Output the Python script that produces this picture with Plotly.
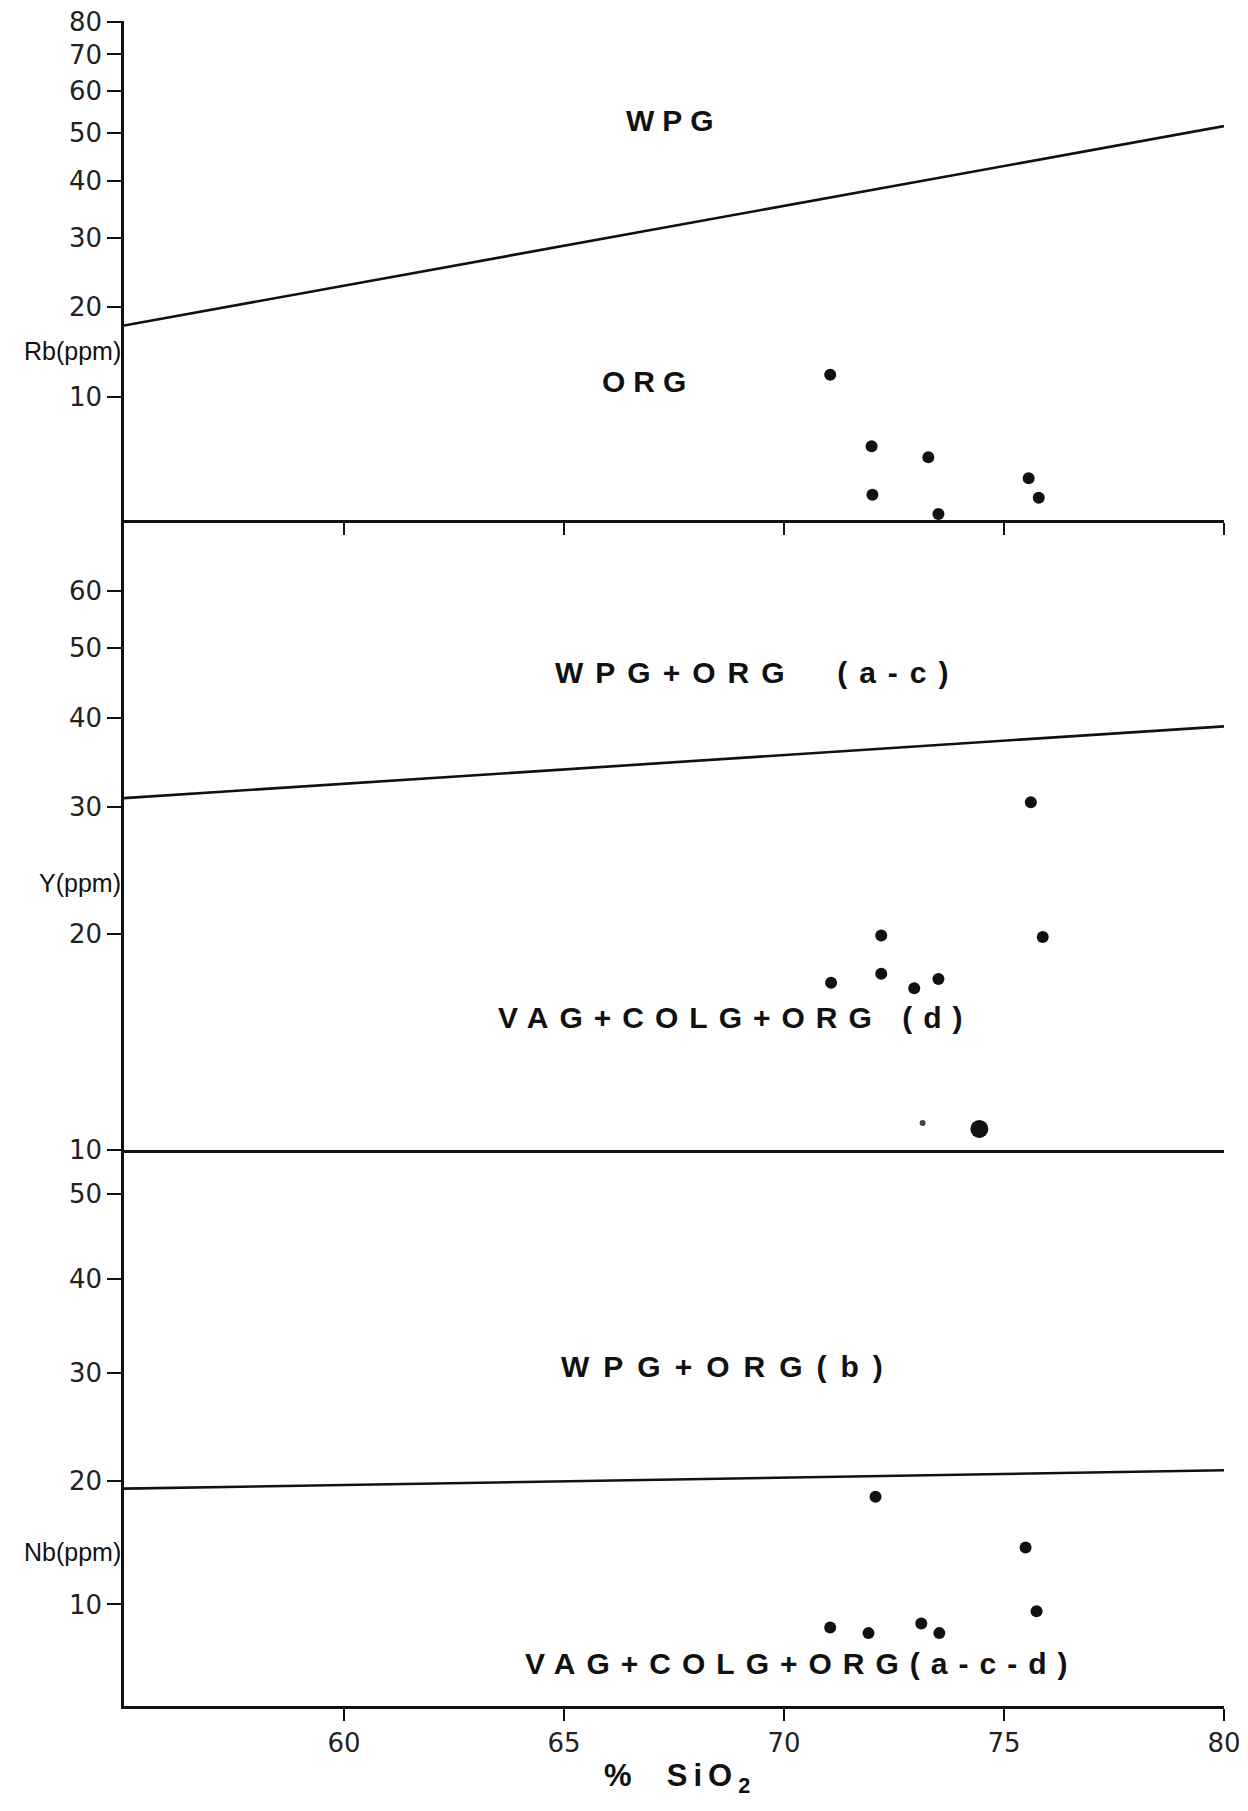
import math
import plotly.graph_objects as go

# ---------------- data ----------------
# Rb panel (SiO2 %, Rb ppm)
rb_sio2 = [71.05, 71.99, 72.01, 73.28, 73.51, 75.56, 75.79]
rb_ppm = [12.2, 5.6, 1.9, 4.7, 0.6, 3.1, 1.7]
# Y panel (SiO2 %, Y ppm)
y_sio2 = [75.61, 75.88, 72.21, 72.21, 71.07, 72.96, 73.51]
y_ppm = [30.5, 19.8, 19.9, 17.6, 17.1, 16.8, 17.3]
y_big_sio2 = [74.44]
y_big_ppm = [10.7]
y_small_sio2 = [73.15]
y_small_ppm = [10.9]
# Nb panel (SiO2 %, Nb ppm)
nb_sio2 = [72.08, 75.49, 75.74, 71.05, 71.92, 73.12, 73.53]
nb_ppm = [18.6, 14.4, 9.5, 8.3, 7.9, 8.6, 7.9]

# discrimination boundaries (SiO2 ends, ppm values)
bound_sio2 = [55, 80]
rb_bound = [17.7, 51.5]
y_bound = [30.9, 38.9]
nb_bound = [19.3, 20.9]

# tick labels
x_ticks = [60, 65, 70, 75, 80]
rb_ticks = [10, 20, 30, 40, 50, 60, 70, 80]
y_ticks = [10, 20, 30, 40, 50, 60]
nb_ticks = [10, 20, 30, 40, 50]

# the hand-drawn ppm scales behave like log(value + offset)
RB_OFF = 20
Y_OFF = 0
NB_OFF = 50


def sh(vals, off):
    return [v + off for v in vals]


FONT = "Liberation Sans, Arial, sans-serif"
TICKFONT = dict(family="DejaVu Sans, sans-serif", size=26, color="#222")
INK = "#111"

fig = go.Figure()

mk = dict(color=INK, size=12, symbol="circle")
lw = dict(color=INK, width=2.6)

# top panel (Rb)
fig.add_trace(go.Scatter(x=bound_sio2, y=sh(rb_bound, RB_OFF), mode="lines", line=lw,
                         xaxis="x3", yaxis="y3", showlegend=False, hoverinfo="skip"))
fig.add_trace(go.Scatter(x=rb_sio2, y=sh(rb_ppm, RB_OFF), mode="markers", marker=mk,
                         xaxis="x3", yaxis="y3", showlegend=False, cliponaxis=False))
# middle panel (Y)
fig.add_trace(go.Scatter(x=bound_sio2, y=sh(y_bound, Y_OFF), mode="lines", line=lw,
                         xaxis="x2", yaxis="y2", showlegend=False, hoverinfo="skip"))
fig.add_trace(go.Scatter(x=y_sio2, y=sh(y_ppm, Y_OFF), mode="markers", marker=mk,
                         xaxis="x2", yaxis="y2", showlegend=False, cliponaxis=False))
fig.add_trace(go.Scatter(x=y_big_sio2, y=sh(y_big_ppm, Y_OFF), mode="markers",
                         marker=dict(color=INK, size=18, symbol="circle"),
                         xaxis="x2", yaxis="y2", showlegend=False, cliponaxis=False))
fig.add_trace(go.Scatter(x=y_small_sio2, y=sh(y_small_ppm, Y_OFF), mode="markers",
                         marker=dict(color="#444", size=6, symbol="circle"),
                         xaxis="x2", yaxis="y2", showlegend=False, cliponaxis=False))
# bottom panel (Nb)
fig.add_trace(go.Scatter(x=bound_sio2, y=sh(nb_bound, NB_OFF), mode="lines", line=lw,
                         xaxis="x", yaxis="y", showlegend=False, hoverinfo="skip"))
fig.add_trace(go.Scatter(x=nb_sio2, y=sh(nb_ppm, NB_OFF), mode="markers", marker=mk,
                         xaxis="x", yaxis="y", showlegend=False, cliponaxis=False))

# layout geometry (page has an 8px body margin, compensated here)
PAGE_OFF = 8
W, H = 1248 - PAGE_OFF, 1811 - 2 * PAGE_OFF
L, R, T = 124 - PAGE_OFF, 24, 21 - PAGE_OFF
B = H - (1706 - PAGE_OFF)
plot_h = H - T - B
p_top_mid = 520 - PAGE_OFF
p_mid_bot = 1150 - PAGE_OFF
d_top = (H - B - p_top_mid) / plot_h
d_mid = (H - B - p_mid_bot) / plot_h

xcommon = dict(range=[55, 80], showline=True, linecolor=INK, linewidth=2.6,
               showgrid=False, zeroline=False, tickvals=x_ticks,
               ticks="outside", ticklen=12, tickwidth=2, tickcolor=INK,
               tickfont=TICKFONT, ticklabeloverflow="allow", automargin=False)

ycommon = dict(type="log", showline=True, linecolor=INK, linewidth=2.6,
               showgrid=False, zeroline=False, ticks="outside", ticklen=14,
               tickwidth=2, tickcolor=INK, tickfont=TICKFONT,
               ticklabeloverflow="allow", automargin=False)

fig.update_layout(
    width=W, height=H,
    margin=dict(l=L, r=R, t=T, b=B, autoexpand=False),
    paper_bgcolor="white", plot_bgcolor="white",
    font=dict(family=FONT, color=INK),
    xaxis=dict(**xcommon, anchor="y", ticktext=[str(v) for v in x_ticks]),
    xaxis2=dict(**{**xcommon, "ticks": ""}, anchor="y2",
                matches="x", showticklabels=False),
    xaxis3=dict(**xcommon, anchor="y3", matches="x", showticklabels=False),
    yaxis=dict(**ycommon, domain=[0, d_mid], anchor="x",
               range=[1.7233, 2.0237],
               tickvals=sh(nb_ticks, NB_OFF), ticktext=[str(v) for v in nb_ticks]),
    yaxis2=dict(**ycommon, domain=[d_mid, d_top], anchor="x2",
                range=[1.0, 1.8773],
                tickvals=sh(y_ticks, Y_OFF), ticktext=[str(v) for v in y_ticks]),
    yaxis3=dict(**ycommon, domain=[d_top, 1], anchor="x3",
                range=[math.log10(0.2 + RB_OFF), 2.0008],
                tickvals=sh(rb_ticks, RB_OFF), ticktext=[str(v) for v in rb_ticks]),
)


def spaced(txt, ls):
    return f'<span style="letter-spacing:{ls}px">{txt}</span>'


labels = [
    # text, x (SiO2), log10 y, axis pair, letter spacing
    ("WPG", 67.5, 1.862, "3", 8),
    ("ORG", 66.91, 1.498, "3", 8),
    ("WPG+ORG  (a-c)", 69.40, 1.665, "2", 12),
    ("VAG+COLG+ORG (d)", 68.90, 1.184, "2", 11),
    ("WPG+ORG(b)", 68.75, 1.907, "", 14),
    ("VAG+COLG+ORG(a-c-d)", 70.40, 1.746, "", 11),
]
for txt, xv, yv, ax, ls in labels:
    fig.add_annotation(text=spaced(txt, ls), x=xv, y=yv, xref="x" + ax, yref="y" + ax,
                       showarrow=False, xanchor="center", yanchor="middle",
                       font=dict(family=FONT, size=30, color=INK, weight="bold"))

side_titles = [
    ("Rb(ppm)", 1.5413, "y3"),
    ("Y(ppm)", 1.3724, "y2"),
    ("Nb(ppm)", 1.8065, "y"),
]
for txt, yv, yr in side_titles:
    fig.add_annotation(text=txt, x=0, y=yv, xref="paper", yref=yr, xshift=-1,
                       showarrow=False, xanchor="right", yanchor="middle",
                       font=dict(family="Liberation Sans Narrow, Liberation Sans, sans-serif",
                                 size=25, color=INK))

fig.add_annotation(text=spaced("%  SiO<sub>2</sub>", 6), x=0.5055, y=-0.0427,
                   xref="paper", yref="paper", showarrow=False,
                   xanchor="center", yanchor="middle",
                   font=dict(family=FONT, size=31, color=INK, weight="bold"))

fig.write_html("out.html")
